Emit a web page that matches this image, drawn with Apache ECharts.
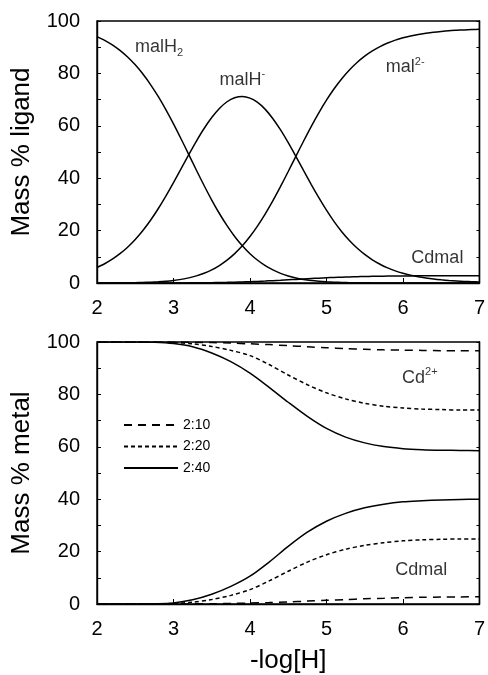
<!DOCTYPE html>
<html>
<head>
<meta charset="utf-8">
<script src="https://cdn.jsdelivr.net/npm/echarts@6/dist/echarts.min.js"></script>
<style>
html,body{margin:0;padding:0;background:#fff;}
#c{width:488px;height:675px;}
</style>
</head>
<body>
<div id="c"></div>
<script>
// Top panel x values (-log[H]), step 0.1
const xsTop = [2.0, 2.1, 2.2, 2.3, 2.4, 2.5, 2.6, 2.7, 2.8, 2.9,
               3.0, 3.1, 3.2, 3.3, 3.4, 3.5, 3.6, 3.7, 3.8, 3.9,
               4.0, 4.1, 4.2, 4.3, 4.4, 4.5, 4.6, 4.7, 4.8, 4.9,
               5.0, 5.1, 5.2, 5.3, 5.4, 5.5, 5.6, 5.7, 5.8, 5.9,
               6.0, 6.1, 6.2, 6.3, 6.4, 6.5, 6.6, 6.7, 6.8, 6.9, 7.0];

// Top panel: mass % ligand
const malH2 = [94.05, 92.62, 90.88, 88.77, 86.25, 83.26, 79.76, 75.74, 71.20, 66.17,
               60.73, 54.96, 49.02, 43.03, 37.21, 31.66, 26.53, 21.88, 17.76, 14.20,
               11.18, 8.68, 6.63, 4.98, 3.68, 2.69, 1.92, 1.36, 0.94, 0.65,
               0.44, 0.29, 0.20, 0.13, 0.09, 0.06, 0.04, 0.02, 0.01, 0,
               0, 0, 0, 0, 0, 0, 0, 0, 0, 0, 0];
const malH  = [5.93, 7.36, 9.09, 11.18, 13.67, 16.61, 20.04, 23.95, 28.34, 33.16,
               38.30, 43.63, 49.00, 54.18, 58.97, 63.16, 66.63, 69.18, 70.70, 71.19,
               70.57, 68.93, 66.27, 62.69, 58.42, 53.56, 48.35, 42.98, 37.66, 32.56,
               27.78, 23.44, 19.59, 16.22, 13.34, 10.90, 8.86, 7.17, 5.77, 4.64,
               3.73, 2.99, 2.38, 1.91, 1.52, 1.21, 0.96, 0.77, 0.61, 0.49, 0.39];
const mal2  = [0.01, 0.02, 0.04, 0.06, 0.09, 0.13, 0.20, 0.30, 0.45, 0.66,
               0.96, 1.38, 1.95, 2.72, 3.72, 5.01, 6.67, 8.71, 11.21, 14.20,
               17.73, 21.80, 26.38, 31.42, 36.86, 42.55, 48.35, 54.11, 59.70, 64.95,
               69.78, 74.13, 77.98, 81.32, 84.16, 86.56, 88.57, 90.22, 91.58, 92.69,
               93.58, 94.30, 94.89, 95.34, 95.72, 96.02, 96.27, 96.45, 96.61, 96.72, 96.82];
const cdmalL = [0, 0, 0, 0, 0, 0, 0.01, 0.01, 0.01, 0.02,
                0.03, 0.04, 0.05, 0.08, 0.10, 0.14, 0.19, 0.24, 0.31, 0.40,
                0.50, 0.61, 0.74, 0.89, 1.04, 1.21, 1.37, 1.54, 1.70, 1.85,
                1.99, 2.12, 2.23, 2.33, 2.42, 2.49, 2.54, 2.59, 2.63, 2.67,
                2.69, 2.71, 2.73, 2.75, 2.76, 2.77, 2.77, 2.78, 2.78, 2.79, 2.79];

// Bottom panel x values, step 0.25
const xsBot = [2, 2.25, 2.5, 2.75, 3, 3.25, 3.5, 3.75, 4, 4.25, 4.5, 4.75, 5, 5.25, 5.5, 5.75, 6, 6.25, 6.5, 6.75, 7];

// Bottom panel: mass % metal, three ratios
const cd10    = [100, 100, 100, 100, 100, 99.9, 99.8, 99.6, 99.3, 99.0, 98.6, 98.2, 97.8, 97.5, 97.2, 97.0, 96.9, 96.8, 96.7, 96.7, 96.7];
const cdmal10 = [0, 0, 0, 0, 0, 0.05, 0.1, 0.2, 0.35, 0.55, 0.8, 1.1, 1.4, 1.7, 2.0, 2.2, 2.4, 2.55, 2.65, 2.7, 2.75];
const cd20    = [100, 100, 100, 100, 99.8, 99.3, 98.3, 96.8, 94.8, 91.4, 87.4, 83.7, 80.6, 78.3, 76.6, 75.5, 74.8, 74.4, 74.2, 74.0, 74.0];
const cdmal20 = [0, 0, 0, 0.03, 0.2, 0.7, 1.7, 3.3, 5.5, 8.8, 12.5, 16.0, 18.8, 20.9, 22.4, 23.4, 24.1, 24.5, 24.7, 24.8, 24.8];
const cd40    = [100, 100, 100, 99.9, 99.4, 98.2, 95.8, 92.5, 88.1, 82.7, 77.0, 71.6, 67.0, 63.7, 61.5, 60.1, 59.3, 58.9, 58.7, 58.6, 58.5];
const cdmal40 = [0, 0, 0, 0.08, 0.4, 1.6, 3.7, 6.7, 10.6, 16.0, 22.0, 27.4, 31.6, 34.6, 36.7, 38.1, 39.0, 39.4, 39.7, 39.9, 40.0];

const ratioNames = ['2:10', '2:20', '2:40'];

// Annotation labels: [x, y, rich text]
const topLabels = [
  [2.81, 90, '{m|malH}{sub|2}'],
  [3.9, 77.5, '{m|malH}{sup|-}'],
  [6.03, 82.4, '{m|mal}{sup|2-}'],
  [6.45, 9.5, '{m|Cdmal}']
];
const botLabels = [
  [6.22, 86.3, '{m|Cd}{sup|2+}'],
  [6.24, 13, '{m|Cdmal}']
];

const FONT = 'Liberation Sans, Arial, Helvetica, sans-serif';
const pair = (xs, ys) => xs.map((x, i) => [x, ys[i]]);

const rich = {
  m: {fontSize: 18, lineHeight: 22, color: '#000', fontFamily: FONT},
  sub: {fontSize: 11, lineHeight: 11, verticalAlign: 'bottom', color: '#000', fontFamily: FONT},
  sup: {fontSize: 11, lineHeight: 11, verticalAlign: 'top', color: '#000', fontFamily: FONT}
};

function xAxisDef(idx, withName) {
  return {
    type: 'value', gridIndex: idx, min: 2, max: 7, interval: 1,
    axisLine: {show: true, onZero: false, lineStyle: {color: '#000', width: 1.4}},
    axisTick: {show: true, inside: true, length: 5, lineStyle: {color: '#000', width: 1}},
    axisLabel: {fontSize: 20, color: '#000', margin: 15, fontFamily: FONT},
    splitLine: {show: false},
    name: withName ? '-log[H]' : '',
    nameLocation: 'middle', nameGap: 44,
    nameTextStyle: {fontSize: 26, color: '#000', fontFamily: FONT}
  };
}
function yAxisDef(idx, name) {
  return {
    type: 'value', gridIndex: idx, min: 0, max: 100, interval: 10,
    axisLine: {show: true, onZero: false, lineStyle: {color: '#000', width: 1.4}},
    axisTick: {show: true, inside: true, length: 4, lineStyle: {color: '#000', width: 1}},
    axisLabel: {fontSize: 20, color: '#000', margin: 17, fontFamily: FONT,
      formatter: v => (v % 20 === 0 ? String(v) : '')},
    splitLine: {show: false},
    name: name, nameLocation: 'middle', nameGap: 62,
    nameTextStyle: {fontSize: 26, color: '#000', fontFamily: FONT}
  };
}
function yRightDef(idx) {
  return {
    type: 'value', gridIndex: idx, min: 0, max: 100, interval: 10, position: 'right',
    axisLine: {show: true, onZero: false, lineStyle: {color: '#000', width: 1.4}},
    axisTick: {show: true, inside: true, length: 3, lineStyle: {color: '#000', width: 1}},
    axisLabel: {show: false}, splitLine: {show: false}
  };
}

function lineSeries(name, xs, ys, xi, yi, dash) {
  return {
    type: 'line', name: name, data: pair(xs, ys), xAxisIndex: xi, yAxisIndex: yi,
    showSymbol: false, symbol: 'none', smooth: 0.3, silent: true,
    lineStyle: {color: '#000', width: 1.5, type: dash},
    itemStyle: {color: '#000'}
  };
}
function labelSeries(labels, xi, yi) {
  return {
    type: 'scatter', xAxisIndex: xi, yAxisIndex: yi, symbolSize: 1, silent: true,
    itemStyle: {color: 'rgba(0,0,0,0)'},
    data: labels.map(l => ({value: [l[0], l[1]], label: {formatter: l[2]}})),
    label: {show: true, position: 'inside', rich: rich}
  };
}

const dashes = {'2:10': [8, 6], '2:20': [4, 3], '2:40': 'solid'};

const option = {
  backgroundColor: '#fff',
  animation: false,
  textStyle: {fontFamily: FONT},
  grid: [
    {left: 97, right: 6, top: 21, height: 262, show: true, borderColor: '#000', borderWidth: 1.4},
    {left: 97, right: 6, top: 342, height: 262, show: true, borderColor: '#000', borderWidth: 1.4}
  ],
  xAxis: [xAxisDef(0, false), xAxisDef(1, true)],
  yAxis: [yAxisDef(0, 'Mass % ligand'), yAxisDef(1, 'Mass % metal'), yRightDef(0), yRightDef(1)],
  legend: {
    data: ratioNames, orient: 'vertical', left: 118, top: 413,
    itemWidth: 54, itemHeight: 14, itemGap: 7.5,
    itemStyle: {opacity: 0},
    textStyle: {fontSize: 14, color: '#000', fontFamily: FONT, padding: [0, 0, 0, 0]},
    selectedMode: false
  },
  series: [
    lineSeries('malH2', xsTop, malH2, 0, 0, 'solid'),
    lineSeries('malH', xsTop, malH, 0, 0, 'solid'),
    lineSeries('mal', xsTop, mal2, 0, 0, 'solid'),
    lineSeries('Cdmal', xsTop, cdmalL, 0, 0, 'solid'),
    lineSeries('2:10', xsBot, cd10, 1, 1, dashes['2:10']),
    lineSeries('2:10', xsBot, cdmal10, 1, 1, dashes['2:10']),
    lineSeries('2:20', xsBot, cd20, 1, 1, dashes['2:20']),
    lineSeries('2:20', xsBot, cdmal20, 1, 1, dashes['2:20']),
    lineSeries('2:40', xsBot, cd40, 1, 1, dashes['2:40']),
    lineSeries('2:40', xsBot, cdmal40, 1, 1, dashes['2:40']),
    labelSeries(topLabels, 0, 0),
    labelSeries(botLabels, 1, 1)
  ]
};

const chart = echarts.init(document.getElementById('c'), null, {renderer: 'canvas'});
chart.setOption(option);
</script>
</body>
</html>
